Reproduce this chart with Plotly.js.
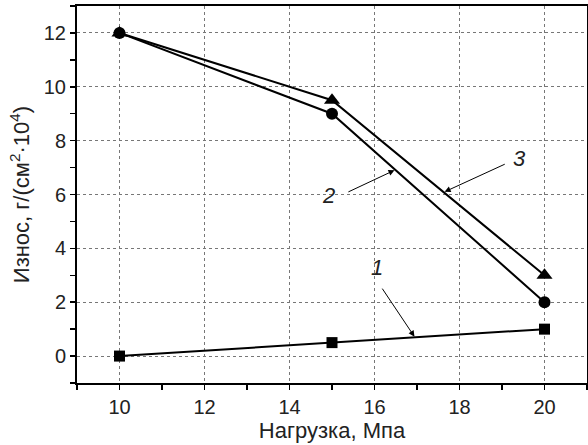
<!DOCTYPE html>
<html><head><meta charset="utf-8">
<script src="https://cdn.plot.ly/plotly-3.0.1.min.js"></script>
<style>body{margin:0;padding:0;background:#fff}#chart{width:588px;height:445px}</style>
</head><body><div id="chart"></div>
<script>
var loadX = [10, 15, 20];
var wear1 = [0, 0.5, 1];
var wear2 = [12, 9, 2];
var wear3 = [12, 9.5, 3];
var xTicks = [10, 12, 14, 16, 18, 20];
var yTicks = [0, 2, 4, 6, 8, 10, 12];
var labels = ['1', '2', '3'];

var font = 'Liberation Sans, Arial, sans-serif';
function tr(y, sym, size) {
  return {x: loadX, y: y, mode: 'lines+markers', type: 'scatter', showlegend: false,
    line: {color: '#000', width: 2}, marker: {symbol: sym, size: size, color: '#000'}, cliponaxis: false};
}
var data = [tr(wear1, 'square', 11), tr(wear2, 'circle', 12), tr(wear3, 'triangle-up', 14)];

var axisCommon = {showline: true, linecolor: '#000', linewidth: 2, mirror: true,
  ticks: 'outside', ticklen: 5, tickwidth: 1.5, tickcolor: '#000',
  showgrid: true, gridcolor: '#777', griddash: 'dot', gridwidth: 1, zeroline: false,
  tickfont: {family: font, size: 20, color: '#222'},
  minor: {ticks: 'outside', ticklen: 5, tickwidth: 1.5, tickcolor: '#000', dtick: 1, showgrid: false}};

var layout = {
  width: 588, height: 445,
  margin: {l: 77, r: 1, t: 6, b: 62},
  paper_bgcolor: '#fff', plot_bgcolor: '#fff',
  xaxis: Object.assign({}, axisCommon, {range: [9, 21], tickvals: xTicks, ticktext: xTicks.map(String),
    title: {text: 'Нагрузка, Мпа', font: {family: font, size: 22, color: '#222'}, standoff: 5}}),
  yaxis: Object.assign({}, axisCommon, {range: [-1, 13], tickvals: yTicks, ticktext: yTicks.map(String),
    title: {text: 'Износ, г/(см<sup>2</sup>·10<sup>4</sup>)', font: {family: font, size: 22, color: '#222'}, standoff: 8}}),
  annotations: [
    {x: 16.05, y: 3.3, text: '<i>' + labels[0] + '</i>', showarrow: false, font: {family: font, size: 22, color: '#222'}},
    {x: 16.94, y: 0.72, ax: 16.16, ay: 2.56, axref: 'x', ayref: 'y', text: '', showarrow: true, arrowhead: 2, arrowsize: 1.2, arrowwidth: 1, arrowcolor: '#000', standoff: 0, startstandoff: 0},
    {x: 14.92, y: 5.96, text: '<i>' + labels[1] + '</i>', showarrow: false, font: {family: font, size: 22, color: '#222'}},
    {x: 16.47, y: 6.9, ax: 15.35, ay: 6.07, axref: 'x', ayref: 'y', text: '', showarrow: true, arrowhead: 2, arrowsize: 1.2, arrowwidth: 1, arrowcolor: '#000', standoff: 0, startstandoff: 0},
    {x: 19.41, y: 7.33, text: '<i>' + labels[2] + '</i>', showarrow: false, font: {family: font, size: 22, color: '#222'}},
    {x: 17.65, y: 6.1, ax: 19.1, ay: 7.15, axref: 'x', ayref: 'y', text: '', showarrow: true, arrowhead: 2, arrowsize: 1.2, arrowwidth: 1, arrowcolor: '#000', standoff: 0, startstandoff: 0}
  ]
};
Plotly.newPlot('chart', data, layout, {displayModeBar: false, staticPlot: true});
</script></body></html>
